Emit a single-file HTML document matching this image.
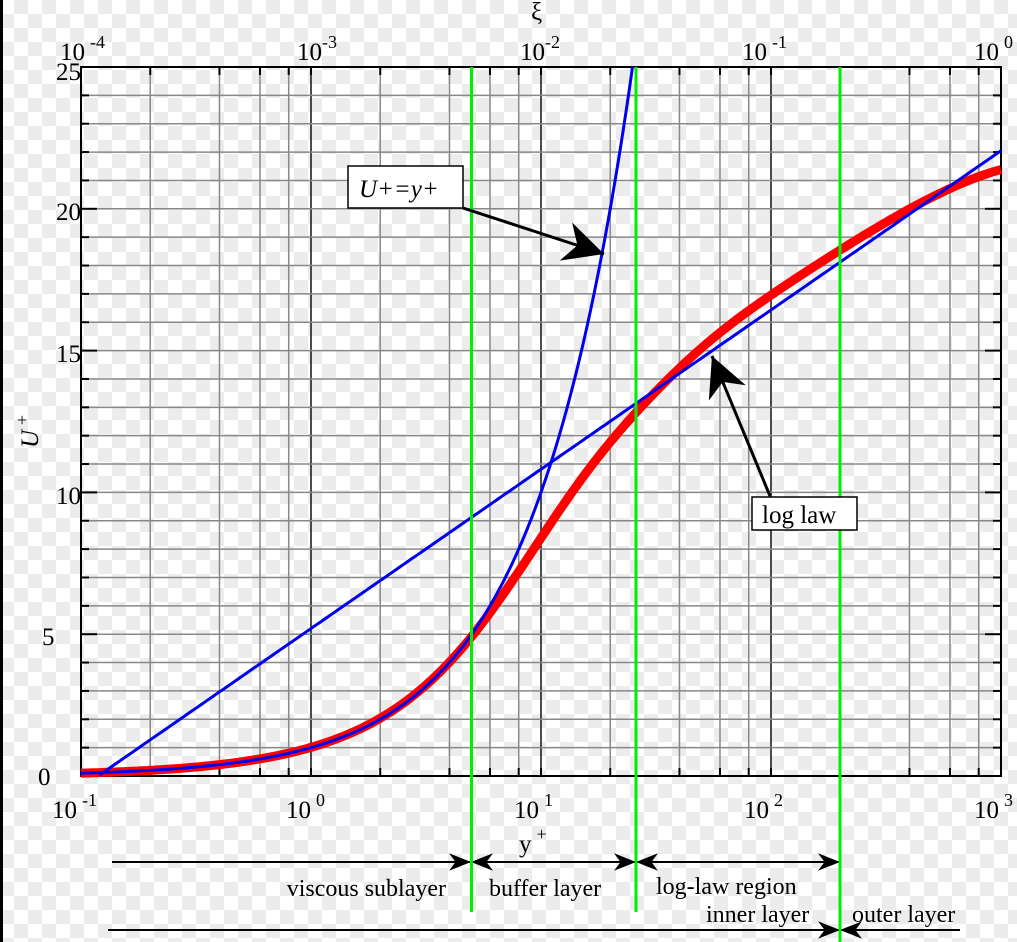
<!DOCTYPE html>
<html><head><meta charset="utf-8"><style>
html,body{margin:0;padding:0;width:1017px;height:942px;overflow:hidden;}
body{background-color:#fff;background-image:linear-gradient(45deg,#ececec 25%,transparent 25%,transparent 75%,#ececec 75%),linear-gradient(45deg,#ececec 25%,transparent 25%,transparent 75%,#ececec 75%);background-size:28px 28px;background-position:0 0,14px 14px;}
svg{position:absolute;left:0;top:0;font-family:"Liberation Serif",serif;}
</style></head><body>
<div style="position:absolute;left:0;top:0;width:3px;height:942px;background:#000"></div>
<svg id="s" width="1017" height="942" viewBox="0 0 1017 942">
<defs>
<marker id="bh" viewBox="0 0 10 10" refX="10" refY="5" markerWidth="40" markerHeight="40" markerUnits="userSpaceOnUse" orient="auto"><path d="M0,0 L10,5 L0,10 L3,5 Z" fill="#000"/></marker>
<marker id="sh" viewBox="0 0 10 10" refX="10" refY="5" markerWidth="26" markerHeight="22" markerUnits="userSpaceOnUse" orient="auto"><path d="M0,1 L10,5 L0,9 L3,5 Z" fill="#000"/></marker></defs>
<g id="grid"></g>
<g id="curves"></g>
<g font-size="25" fill="#000">
<text x="56" y="80">25</text><text x="56" y="220">20</text><text x="56" y="362">15</text><text x="56" y="504">10</text><text x="42" y="645">5</text><text x="38" y="785">0</text>
<text x="52" y="818">10<tspan font-size="18" dy="-12" dx="5">-1</tspan></text>
<text x="286" y="818">10<tspan font-size="18" dy="-12" dx="5">0</tspan></text>
<text x="514" y="818">10<tspan font-size="18" dy="-12" dx="5">1</tspan></text>
<text x="744" y="818">10<tspan font-size="18" dy="-12" dx="5">2</tspan></text>
<text x="974" y="818">10<tspan font-size="18" dy="-12" dx="5">3</tspan></text>
<text x="519" y="852">y<tspan font-size="18" dy="-12" dx="5">+</tspan></text>
<text x="60" y="60">10<tspan font-size="18" dy="-12" dx="5">-4</tspan></text>
<text x="297" y="60">10<tspan font-size="18" dy="-12">-3</tspan></text>
<text x="520" y="60">10<tspan font-size="18" dy="-12">-2</tspan></text>
<text x="742" y="60">10<tspan font-size="18" dy="-12" dx="5">-1</tspan></text>
<text x="974" y="60">10<tspan font-size="18" dy="-12" dx="5">0</tspan></text>
<text x="531" y="20">ξ</text>
<text transform="translate(38,448) rotate(-90)" font-style="italic">U<tspan font-size="18" dy="-10" dx="5" font-style="normal">+</tspan></text>
</g>
<g font-size="24">
<text x="446" y="896" text-anchor="end">viscous sublayer</text>
<text x="489" y="896">buffer layer</text>
<text x="656" y="894">log-law region</text>
<text x="706" y="922">inner layer</text>
<text x="852" y="922">outer layer</text>
</g>
<g stroke="#000" stroke-width="2" fill="none">
<line x1="112" y1="862" x2="471" y2="862" marker-end="url(#sh)"/>
<line x1="636" y1="862" x2="471" y2="862" marker-end="url(#sh)"/>
<line x1="471" y1="862" x2="636" y2="862" marker-end="url(#sh)"/>
<line x1="840" y1="862" x2="636" y2="862" marker-end="url(#sh)"/>
<line x1="636" y1="862" x2="840" y2="862" marker-end="url(#sh)"/>
<line x1="108" y1="930" x2="840" y2="930" marker-end="url(#sh)"/>
<line x1="960" y1="930" x2="840" y2="930" marker-end="url(#sh)"/>
</g>
<g stroke="#00ee00" stroke-width="3">
<line x1="471.5" y1="67" x2="471.5" y2="912"/>
<line x1="636" y1="67" x2="636" y2="912"/>
<line x1="840" y1="67" x2="840" y2="942"/>
</g>
<g stroke="#000" stroke-width="3" fill="none">
<line x1="463" y1="208" x2="604" y2="254" marker-end="url(#bh)"/>
<line x1="770" y1="496" x2="712" y2="356" marker-end="url(#bh)"/>
</g>
<rect x="348" y="166" width="115" height="42" fill="#fff" stroke="#000" stroke-width="1.5"/>
<text x="359" y="197" font-size="25" font-style="italic">U+=y+</text>
<rect x="752" y="497" width="105" height="33" fill="#fff" stroke="#000" stroke-width="1.5"/>
<text x="762" y="523" font-size="25">log law</text>
</svg>
<script>
var X0=81,DW=230,Y0=776,YU=28.36;
function px(y){return X0+DW*(Math.log10(y)+1);}
function py(u){return Y0-YU*u;}
var g='';
for(var d=-1;d<3;d++){[1,2,4,6,8].forEach(function(k){var x=px(k*Math.pow(10,d));
 g+='<line x1="'+x+'" y1="67" x2="'+x+'" y2="776" stroke="'+(k==1?'#111':'#888')+'" stroke-width="1.5"/>';
 g+='<line x1="'+x+'" y1="67" x2="'+x+'" y2="75" stroke="#000" stroke-width="2"/><line x1="'+x+'" y1="768" x2="'+x+'" y2="776" stroke="#000" stroke-width="2"/>';});}
for(var u=1;u<25;u++){var y=py(u);g+='<line x1="81" y1="'+y+'" x2="1001" y2="'+y+'" stroke="#888" stroke-width="1.5"/>';
 var tl=(u%5==0)?16:8;g+='<line x1="81" y1="'+y+'" x2="'+(81+tl)+'" y2="'+y+'" stroke="#000" stroke-width="2"/><line x1="'+(1001-tl)+'" y1="'+y+'" x2="1001" y2="'+y+'" stroke="#000" stroke-width="2"/>';}
g+='<rect x="81" y="67" width="920" height="709" fill="none" stroke="#000" stroke-width="2"/>';
document.getElementById('grid').innerHTML=g;
function red(y){return 2.5*Math.log(1+0.4*y)+7.8*(1-Math.exp(-y/11)-(y/11)*Math.exp(-y/3))-1.4*Math.pow(y/1000,1.1)-0.3*Math.exp(-Math.pow(Math.log(y/30),2)/0.5);}
var r='',b1='',b2='';
for(var i=0;i<=400;i++){var y=Math.pow(10,-1+4*i/400);r+=(i?'L':'M')+px(y).toFixed(1)+','+py(red(y)).toFixed(1);
 var lu=Math.log(y)/0.41+5.2; if(lu>=0) b2+=(b2?'L':'M')+px(y).toFixed(1)+','+py(lu).toFixed(1);
 if(y<=25) b1+=(i?'L':'M')+px(y).toFixed(1)+','+py(y).toFixed(1);}
b1+='L'+px(25).toFixed(1)+','+py(25);
document.getElementById('curves').innerHTML='<path d="'+r+'" stroke="#ff0000" stroke-width="9" fill="none"/><path d="'+b1+'" stroke="#0000ee" stroke-width="3" fill="none"/><path d="'+b2+'" stroke="#0000ee" stroke-width="3" fill="none"/>';
</script>
</body></html>
